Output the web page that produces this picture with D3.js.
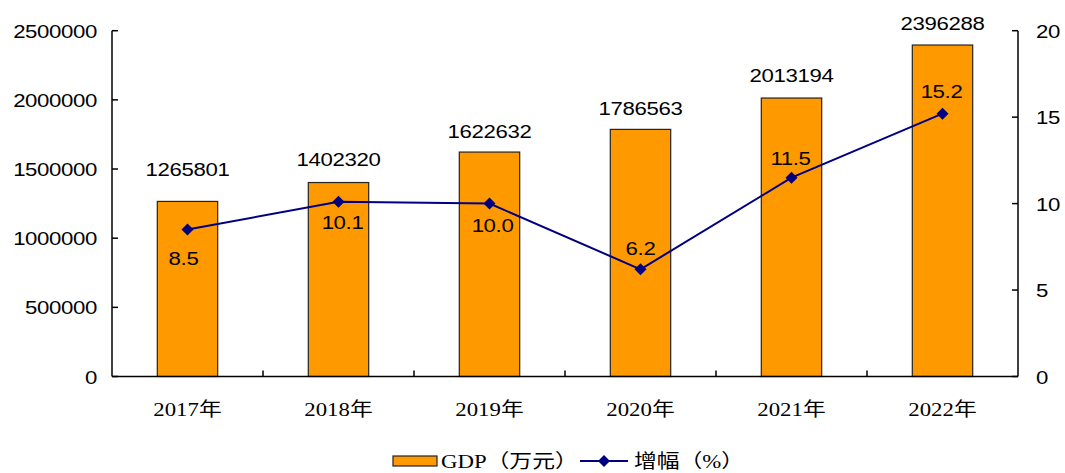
<!DOCTYPE html>
<html>
<head>
<meta charset="utf-8">
<script src="https://cdn.jsdelivr.net/npm/d3@7"></script>
<style>
  body { margin: 0; background: #fff; }
  .num { font-family: "Liberation Sans", Arial, sans-serif; font-size: 18.5px; fill: #000; letter-spacing: -0.3px; }
  .ser { font-family: "Liberation Serif", "Noto Sans CJK SC", serif; font-size: 19px; fill: #000; }
</style>
</head>
<body>
<script>
var years = ["2017年", "2018年", "2019年", "2020年", "2021年", "2022年"];
var gdp = [1265801, 1402320, 1622632, 1786563, 2013194, 2396288];
var growth = [8.5, 10.1, 10.0, 6.2, 11.5, 15.2];
var leftTicks = [0, 500000, 1000000, 1500000, 2000000, 2500000];
var rightTicks = [0, 5, 10, 15, 20];

// label nudges, as placed by hand in the original
var gdpLabelDy = [-25, -17, -14, -14, -16, -15];
var growthLabelDy = [35, 27, 28, -14, -13, -16];
var growthLabelDx = [-4, 4, 3, 0, -1, -1];

var w = 1065, h = 473;
var sx = 1.2; // text in the picture is stretched sideways

var svg = d3.select("body").append("svg")
  .attr("width", w).attr("height", h);

var x = d3.scaleBand().domain(years).range([112, 1018])
  .paddingInner(0.6).paddingOuter(0.3);
var yL = d3.scaleLinear().domain([0, 2500000]).range([376.5, 30.7]);
var yR = d3.scaleLinear().domain([0, 20]).range([376.5, 30.7]);

function label(cls, px, py, txt, anchor) {
  return svg.append("text")
    .attr("class", cls)
    .attr("transform", "translate(" + px + "," + py + ") scale(" + sx + ",1)")
    .attr("text-anchor", anchor || "middle")
    .text(txt);
}
function cx(i) { return x(years[i]) + x.bandwidth() / 2; }

// bars
svg.selectAll("rect.bar")
  .data(gdp)
  .enter()
  .append("rect")
  .attr("class", "bar")
  .attr("x", function(d, i) { return x(years[i]); })
  .attr("y", function(d) { return yL(d); })
  .attr("width", x.bandwidth())
  .attr("height", function(d) { return yL(0) - yL(d); })
  .attr("fill", "#FF9900")
  .attr("stroke", "#222")
  .attr("stroke-width", 1.2);

// axes lines
svg.append("line").attr("x1", 112).attr("x2", 112)
  .attr("y1", yL(2500000)).attr("y2", yL(0)).attr("stroke", "#000").attr("stroke-width", 1.5);
svg.append("line").attr("x1", 1018).attr("x2", 1018)
  .attr("y1", yR(20)).attr("y2", yR(0)).attr("stroke", "#000").attr("stroke-width", 1.5);
svg.append("line").attr("x1", 112).attr("x2", 1018)
  .attr("y1", yL(0)).attr("y2", yL(0)).attr("stroke", "#000").attr("stroke-width", 1.5);

// left ticks + labels
leftTicks.forEach(function(t) {
  svg.append("line").attr("x1", 112).attr("x2", 118)
    .attr("y1", yL(t)).attr("y2", yL(t)).attr("stroke", "#000").attr("stroke-width", 1.5);
  label("num", 97, yL(t) + 7, t, "end");
});

// right ticks + labels
rightTicks.forEach(function(t) {
  svg.append("line").attr("x1", 1012).attr("x2", 1018)
    .attr("y1", yR(t)).attr("y2", yR(t)).attr("stroke", "#000").attr("stroke-width", 1.5);
  label("num", 1036, yR(t) + 7, t, "start");
});

// x ticks between categories
var step = x.step();
for (var i = 1; i < years.length; i++) {
  var tx = x(years[i]) - (step - x.bandwidth()) / 2;
  svg.append("line").attr("x1", tx).attr("x2", tx)
    .attr("y1", yL(0)).attr("y2", yL(0) - 6).attr("stroke", "#000").attr("stroke-width", 1.5);
}

// x labels
years.forEach(function(yr, i) {
  label("ser", cx(i), 416, yr);
});

// bar value labels
gdp.forEach(function(d, i) {
  label("num", cx(i), yL(d) + gdpLabelDy[i], d);
});

// growth line
var line = d3.line()
  .x(function(d, i) { return cx(i); })
  .y(function(d) { return yR(d); });

svg.append("path")
  .datum(growth)
  .attr("d", line)
  .attr("fill", "none")
  .attr("stroke", "#000080")
  .attr("stroke-width", 2);

var diamond = d3.symbol().type(d3.symbolSquare).size(72);
svg.selectAll("path.mk")
  .data(growth)
  .enter()
  .append("path")
  .attr("class", "mk")
  .attr("d", diamond)
  .attr("transform", function(d, i) {
    return "translate(" + cx(i) + "," + yR(d) + ") rotate(45)";
  })
  .attr("fill", "#000080");

growth.forEach(function(d, i) {
  label("num", cx(i) + growthLabelDx[i], yR(d) + growthLabelDy[i], d.toFixed(1));
});

// legend
svg.append("rect").attr("x", 393).attr("y", 456).attr("width", 44).attr("height", 10)
  .attr("fill", "#FF9900").attr("stroke", "#222").attr("stroke-width", 1.2);
label("ser", 441, 468, "GDP（万元）", "start");
svg.append("line").attr("x1", 580).attr("x2", 628).attr("y1", 461).attr("y2", 461)
  .attr("stroke", "#000080").attr("stroke-width", 2);
svg.append("path")
  .attr("d", diamond)
  .attr("transform", "translate(604,461) rotate(45)")
  .attr("fill", "#000080");
label("ser", 634, 468, "增幅（%）", "start");
</script>
</body>
</html>
